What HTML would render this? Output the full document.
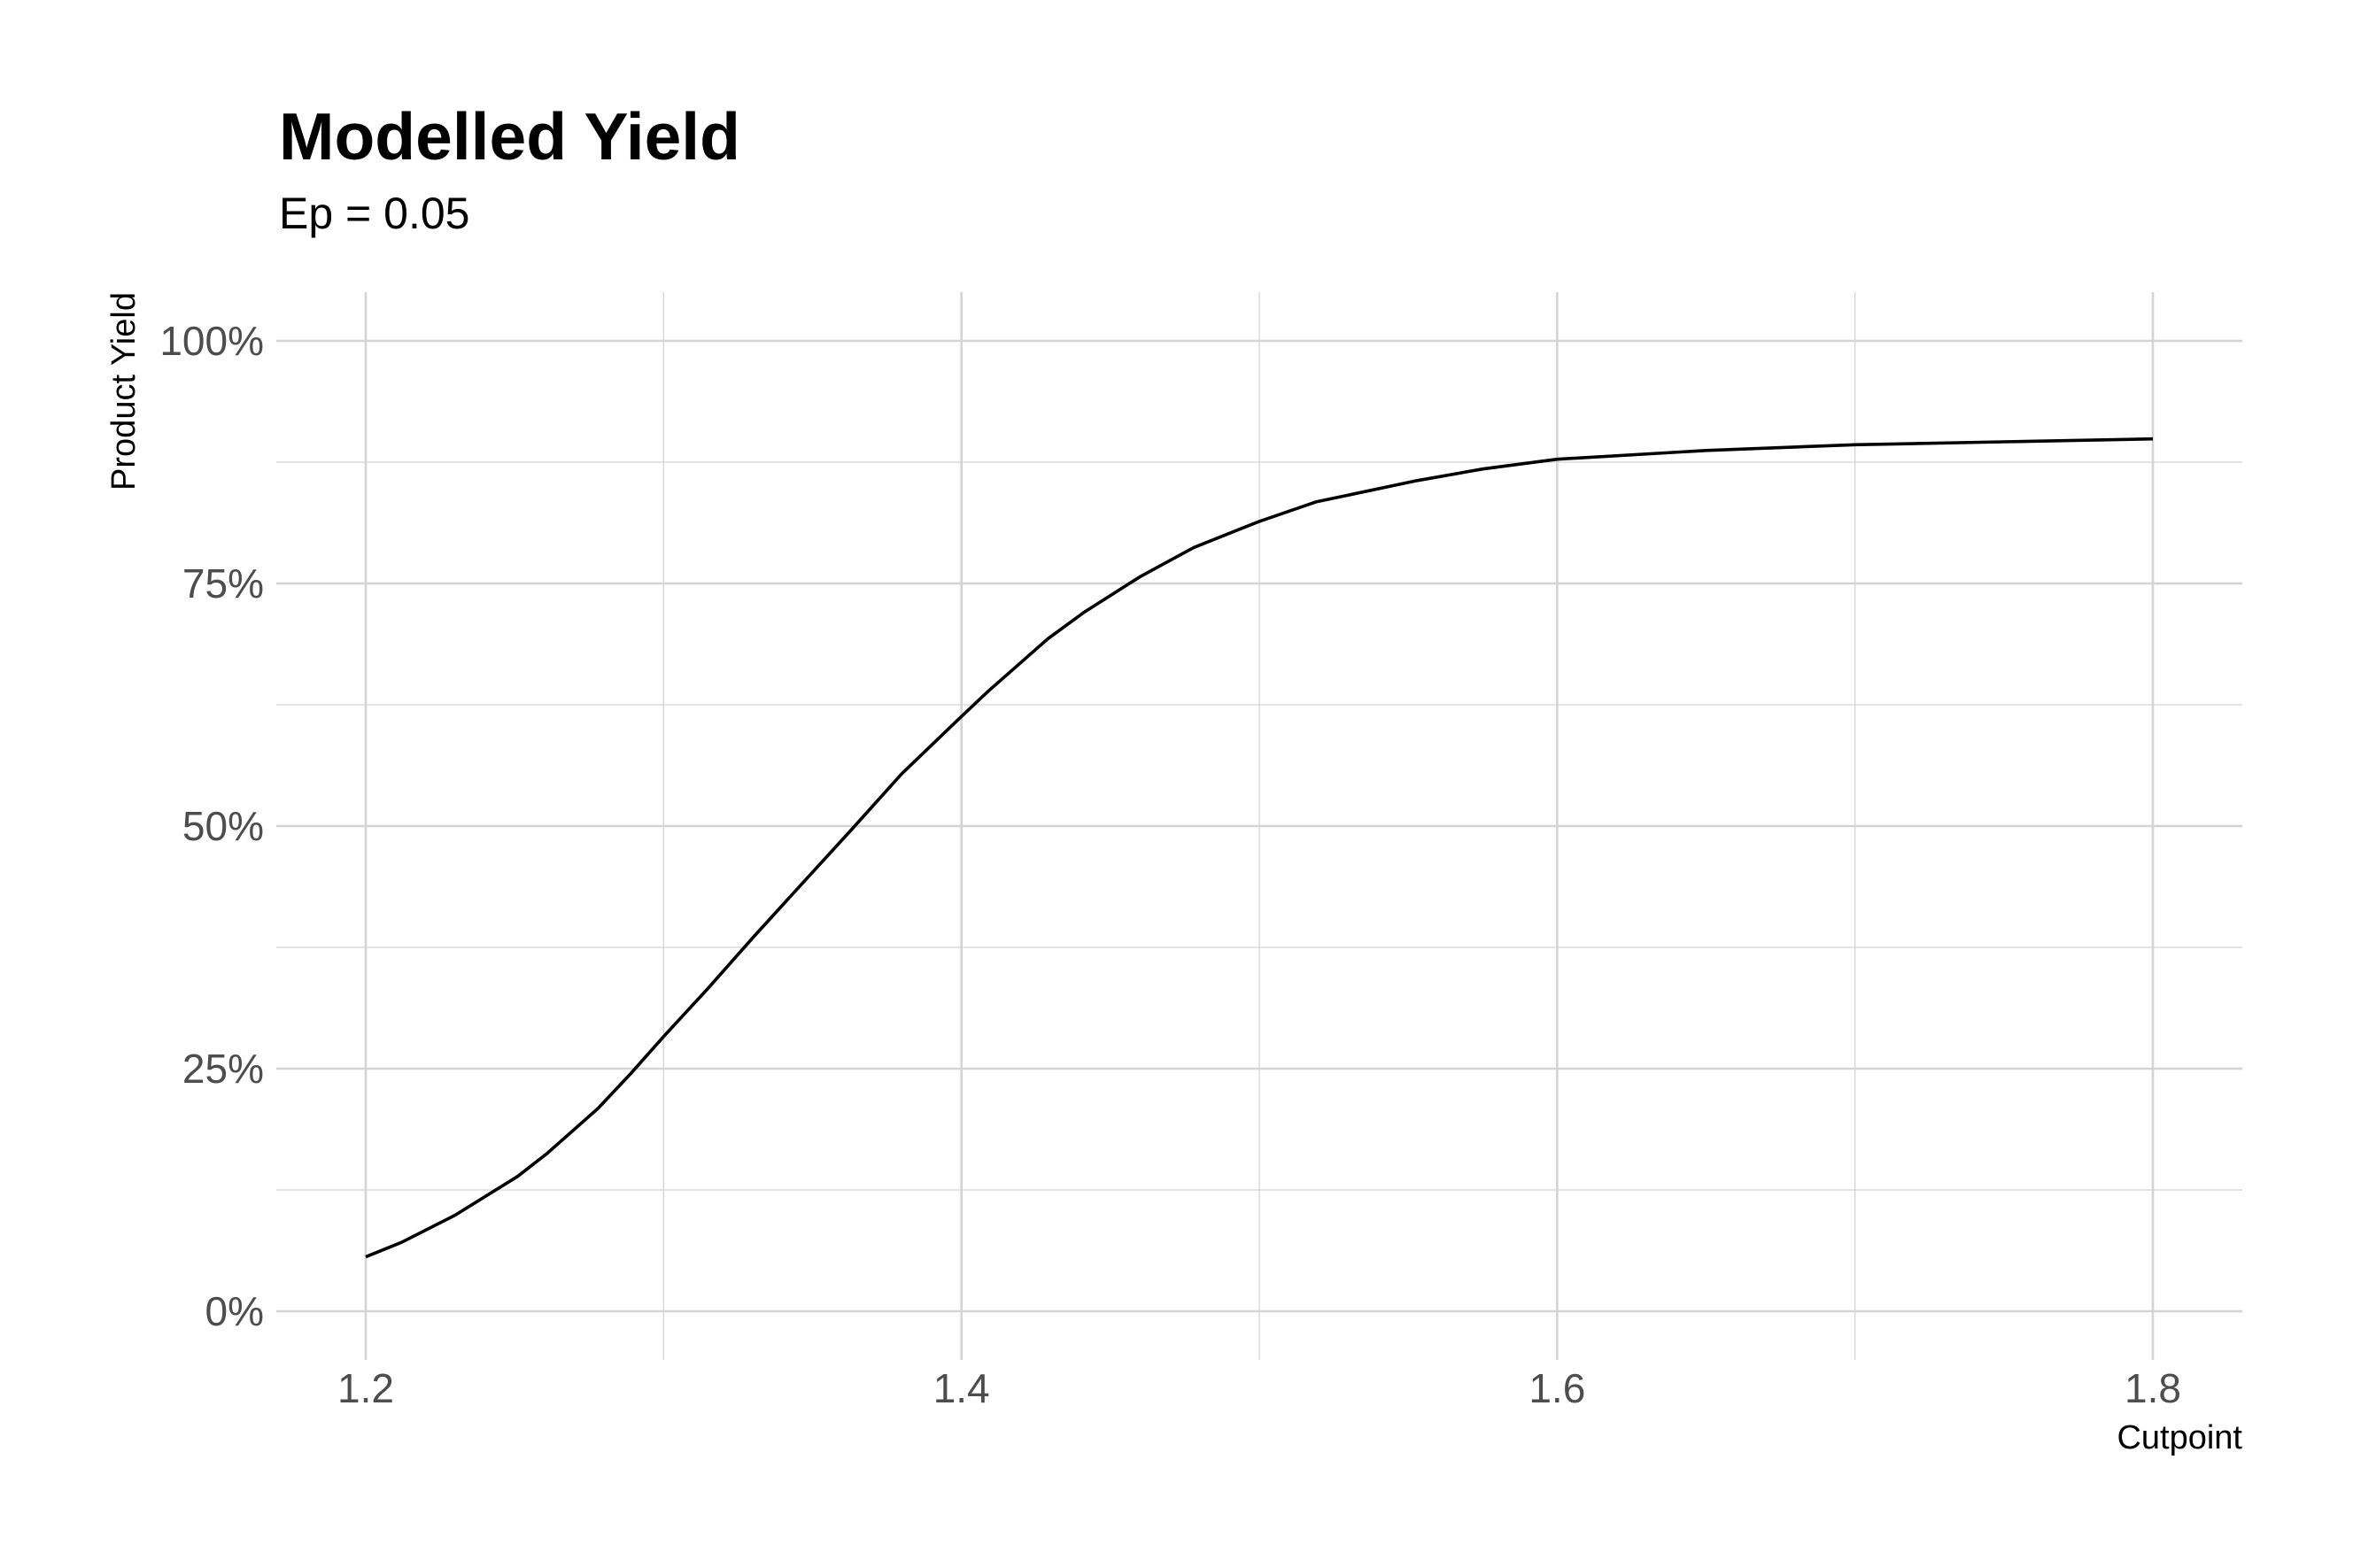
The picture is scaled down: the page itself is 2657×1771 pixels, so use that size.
<!DOCTYPE html>
<html><head><meta charset="utf-8"><style>
body{margin:0;background:#fff}
svg{display:block;font-family:"Liberation Sans",Arial,sans-serif}
</style></head><body>
<svg id="chart" width="2657" height="1771" viewBox="0 0 2657 1771" xmlns="http://www.w3.org/2000/svg">
<rect width="2657" height="1771" fill="#fff"/>
<text x="315" y="180" font-size="75" font-weight="bold" fill="#000">Modelled Yield</text>
<text x="315" y="258" font-size="50" fill="#000">Ep = 0.05</text>
<g id="grid"></g>
<g id="axes"></g>
<path id="line" fill="none" stroke="#000" stroke-width="3.6" stroke-linejoin="round" stroke-linecap="butt"/>
<text x="0" y="0" transform="translate(152,442) rotate(-90)" text-anchor="middle" font-size="38" fill="#000">Product Yield</text>
<text x="2532" y="1636" text-anchor="end" font-size="38" fill="#000">Cutpoint</text>
</svg>
<script>
const cutpoints = [1.2,1.212,1.23,1.251,1.261,1.278,1.289,1.3,1.315,1.33,1.346,1.363,1.38,1.4,1.409,1.429,1.441,1.46,1.478,1.5,1.519,1.553,1.575,1.6,1.65,1.7,1.75,1.8];
const yieldPct = [5.6,7.1,9.9,13.9,16.3,20.9,24.5,28.3,33.3,38.5,43.9,49.6,55.4,61.3,63.9,69.3,72.0,75.7,78.7,81.4,83.4,85.6,86.8,87.8,88.7,89.3,89.6,89.9];
const xTicks = [1.2,1.4,1.6,1.8];
const xTickLabels = ["1.2","1.4","1.6","1.8"];
const xMinor = [1.3,1.5,1.7];
const yTicks = [0,25,50,75,100];
const yTickLabels = ["0%","25%","50%","75%","100%"];
const yMinor = [12.5,37.5,62.5,87.5];

const NS="http://www.w3.org/2000/svg";
const L=312,R=2532,T=330,B=1536;
function sx(v){return 413+(v-1.2)/0.6*(2431-413);}
function sy(v){return 1481-v/100*(1481-385);}
const grid=document.getElementById('grid'), axes=document.getElementById('axes');
function line(x1,y1,x2,y2,w,name){
  const l=document.createElementNS(NS,'line');
  l.setAttribute('x1',x1);l.setAttribute('y1',y1);l.setAttribute('x2',x2);l.setAttribute('y2',y2);
  l.setAttribute('stroke','#d4d4d4');l.setAttribute('stroke-width',w);
  
  
  grid.appendChild(l);
}
yMinor.forEach(v=>line(L,sy(v),R,sy(v),1.3,'y-minor-gridline'));
xMinor.forEach(v=>line(sx(v),T,sx(v),B,1.3,'x-minor-gridline'));
yTicks.forEach(v=>line(L,sy(v),R,sy(v),2.6,'y-major-gridline'));
xTicks.forEach(v=>line(sx(v),T,sx(v),B,2.6,'x-major-gridline'));
function txt(x,y,s,anchor,name){
  const t=document.createElementNS(NS,'text');
  t.setAttribute('x',x);t.setAttribute('y',y);t.setAttribute('text-anchor',anchor);
  t.setAttribute('font-size','46');t.setAttribute('fill','#4d4d4d');
  t.textContent=s;
  
  
  axes.appendChild(t);
}
yTicks.forEach((v,i)=>txt(298,sy(v)+16,yTickLabels[i],'end','y-tick-label'));
xTicks.forEach((v,i)=>txt(sx(v),1584,xTickLabels[i],'middle','x-tick-label'));
document.getElementById('line').setAttribute('d',cutpoints.map((c,i)=>(i?'L':'M')+sx(c).toFixed(1)+','+sy(yieldPct[i]).toFixed(1)).join(' '));
</script>
</body></html>
